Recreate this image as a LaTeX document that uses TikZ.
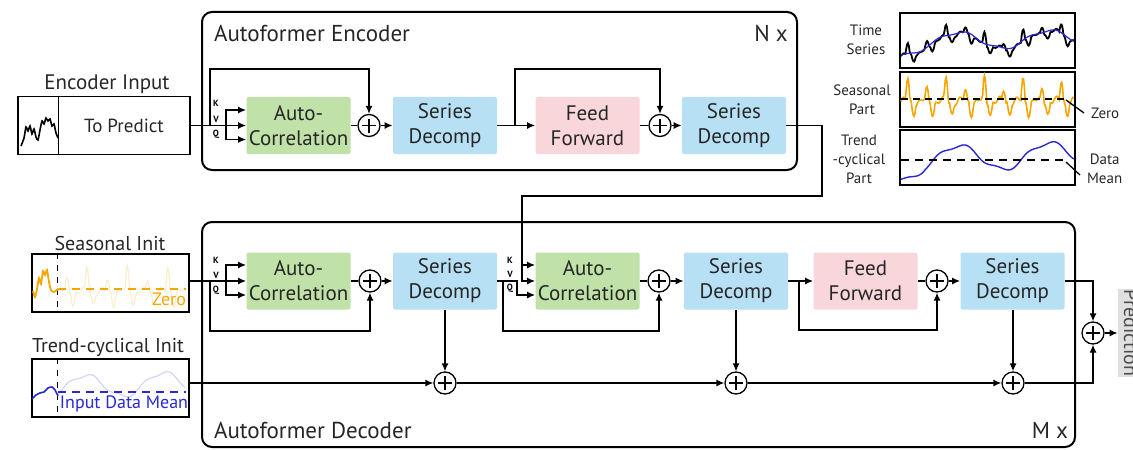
\documentclass[tikz,border=0pt]{standalone}
\usepackage{fontspec}
\setmainfont{PT Sans}
\usetikzlibrary{arrows.meta, positioning, calc}

\definecolor{acgreen}{RGB}{192,226,168}
\definecolor{sdblue}{RGB}{184,224,244}
\definecolor{ffpink}{RGB}{248,214,218}
\definecolor{seasorange}{RGB}{246,166,0}
\definecolor{trendblue}{RGB}{40,40,215}

\begin{document}
\begin{tikzpicture}[x=0.5pt, y=-0.5pt,
    declare function={
      trendf(\x)=0.7*sin(690*\x-138)+0.3*\x+0.12*sin(2100*\x)-0.6*max(0,1-7*\x);
      seasf(\x)=1.3*(0.8+0.3*sin(1700*\x))*max(0,1-(mod(9*\x,1)-0.35)*(mod(9*\x,1)-0.35)/0.012)
        -0.7*max(0,1-(mod(9*\x,1)-0.65)*(mod(9*\x,1)-0.65)/0.015)
        -0.15+0.2*sin(3300*\x)+0.12*sin(7700*\x);
    },
    conn/.style={line width=0.65pt},
    arr/.style={conn, -{Latex[length=4pt,width=3.5pt]}},
    blk/.style={minimum width=52pt, minimum height=28.5pt, inner sep=0pt,
      align=center, rounded corners=1pt, text=black!85,
      font=\fontsize{10.5}{12.5}\selectfont},
    sumop/.style={circle, draw, line width=0.65pt, minimum size=11pt, inner sep=0pt,
      path picture={\draw[line width=0.6pt]
        ([xshift=-3.5pt]path picture bounding box.center) -- ([xshift=3.5pt]path picture bounding box.center)
        ([yshift=-3.5pt]path picture bounding box.center) -- ([yshift=3.5pt]path picture bounding box.center);}},
    stackbox/.style={line width=1pt, rounded corners=5pt},
    inbox/.style={draw, line width=0.7pt, inner sep=0pt},
    lbl/.style={text=black!85, font=\fontsize{10}{12}\selectfont},
    tslbl/.style={text=black!85, align=center, font=\fontsize{7.5}{9.5}\selectfont},
    kvq/.style={inner sep=0pt, font=\fontsize{4.5}{5}\bfseries\selectfont}
  ]
  \useasboundingbox (0,0) rectangle (1133,449);

  % Encoder and decoder stacks
  \draw[stackbox] (202,12) rectangle (797,170);
  \draw[stackbox] (202,222) rectangle (1075,447);
  \node[anchor=west, lbl, font=\fontsize{11.5}{13}\selectfont] (enc_title) at (207,33) {Autoformer Encoder};
  \node[lbl, font=\fontsize{11.5}{13}\selectfont] (enc_n) at (771,33) {N x};
  \node[anchor=west, lbl, font=\fontsize{11.5}{13}\selectfont] (dec_title) at (207,430) {Autoformer Decoder};
  \node[lbl, font=\fontsize{11.5}{13}\selectfont] (dec_m) at (1050,430) {M x};

  % Encoder input
  \node[lbl, font=\fontsize{10.5}{12}\selectfont] (enc_lbl) at (107,84) {Encoder Input};
  \node[inbox, minimum width=86pt, minimum height=29pt] (enc_in) at (104,125.5) {};
  \draw[line width=0.7pt] ([xshift=20.5pt]enc_in.north west) -- ([xshift=20.5pt]enc_in.south west);
  \node[lbl, font=\fontsize{9.5}{11}\selectfont] (enc_tp) at (124,125.5) {To Predict};
  \draw[line width=0.8pt] plot[smooth, tension=0.4] coordinates {(21,146) (24,138) (26,127) (28,131) (30,126) (32,134) (34,129) (36,137) (38,140) (40,130) (42,121) (44,124) (46,118) (48,121) (50,119) (52,126) (54,124) (56,133) (58,138)};

  % Encoder layer
  \node[blk, fill=acgreen] (enc_ac) at (298.5,125.5) {Auto-\\Correlation};
  \node[sumop] (enc_p1) at (369,125.5) {};
  \node[blk, fill=sdblue] (enc_sd1) at (445,125.5) {Series\\Decomp};
  \node[blk, fill=ffpink] (enc_ff) at (587.5,125.5) {Feed\\Forward};
  \node[sumop] (enc_p2) at (660,125.5) {};
  \node[blk, fill=sdblue] (enc_sd2) at (734,125.5) {Series\\Decomp};
  \foreach \lt/\yy in {K/103,V/119,Q/134}
    \node[kvq] at (216,\yy) {\lt};

  \coordinate (enc_br) at (226,125.5);
  \coordinate (enc_fb) at (210,125.5);
  \coordinate (enc_fb2) at (515,125.5);
  \draw[conn] (enc_in.east) -- (enc_br);
  \draw[arr] (enc_br) |- ([yshift=7.75pt]enc_ac.west);
  \draw[arr] (enc_br) -- (enc_ac.west);
  \draw[arr] (enc_br) |- ([yshift=-7pt]enc_ac.west);
  \draw[arr] (enc_fb) -- ++(0,-56.5) -| (enc_p1.north);
  \draw[conn] (enc_ac) -- (enc_p1);
  \draw[arr] (enc_p1) -- (enc_sd1);
  \draw[arr] (enc_sd1) -- (enc_ff);
  \draw[arr] (enc_fb2) -- ++(0,-56.5) -| (enc_p2.north);
  \draw[conn] (enc_ff) -- (enc_p2);
  \draw[arr] (enc_p2) -- (enc_sd2);

  % Decoder inputs
  \node[lbl] (seas_lbl) at (110,243) {Seasonal Init};
  \node[inbox, minimum width=78.5pt, minimum height=29pt] (seas_in) at (110.5,283) {};
  \draw[line width=0.6pt, dashed] ([xshift=13pt]seas_in.north west) -- ([xshift=13pt]seas_in.south west);
  \draw[seasorange, line width=0.7pt, dash pattern=on 4pt off 3pt] (58,289) -- (186,289);
  \draw[seasorange, opacity=0.2, line width=0.6pt] plot[domain=0:1, samples=120] ({58+127*\x},{289-16*seasf(0.1+0.7*\x)});
  \draw[seasorange, line width=0.9pt] plot[smooth, tension=0.4] coordinates {(33,291) (35,297) (37,289) (39,278) (41,284) (43,271) (45,275) (47,270) (49,282) (51,290) (54,292) (58,289)};
  \node[text=seasorange, font=\fontsize{9}{10}\selectfont] (seas_zero) at (169,299) {Zero};

  \node[lbl] (trend_lbl) at (108,347) {Trend-cyclical Init};
  \node[inbox, minimum width=78.5pt, minimum height=29pt] (trend_in) at (110.5,388) {};
  \draw[line width=0.6pt, dashed] ([xshift=13pt]trend_in.north west) -- ([xshift=13pt]trend_in.south west);
  \draw[trendblue, line width=0.7pt, dash pattern=on 4pt off 3pt] (58,392) -- (186,392);
  \draw[trendblue, opacity=0.2, line width=0.6pt] plot[domain=0:1, samples=80] ({58+127*\x},{388-16*trendf(0.15+0.85*\x)});
  \draw[trendblue, line width=0.8pt] plot[smooth] coordinates {(32,399) (36,395) (40,393) (44,392) (48,388) (52,387) (55,390) (58,396)};
  \node[text=trendblue, font=\fontsize{9}{10}\selectfont] (trend_mean) at (124,404) {Input Data Mean};

  % Decoder layer
  \node[blk, fill=acgreen] (dec_ac1) at (298.5,281) {Auto-\\Correlation};
  \node[sumop] (dec_p1) at (370,281) {};
  \node[blk, fill=sdblue] (dec_sd1) at (445,281) {Series\\Decomp};
  \node[blk, fill=acgreen] (dec_ac2) at (587.5,281) {Auto-\\Correlation};
  \node[sumop] (dec_p2) at (659,281) {};
  \node[blk, fill=sdblue] (dec_sd2) at (736,281) {Series\\Decomp};
  \node[blk, fill=ffpink] (dec_ff) at (865.5,281) {Feed\\Forward};
  \node[sumop] (dec_p3) at (937,281) {};
  \node[blk, fill=sdblue] (dec_sd3) at (1012.5,281) {Series\\Decomp};
  \node[sumop] (tr_p1) at (445,383) {};
  \node[sumop] (tr_p2) at (736,383) {};
  \node[sumop] (tr_p3) at (1013,383) {};
  \node[sumop] (out_p) at (1093,333) {};
  \node[fill=black!12, text=black!70, rotate=-90, minimum width=44pt, minimum height=13pt,
    inner sep=0pt, font=\fontsize{10}{11}\selectfont] (pred) at (1131,333) {Prediction};
  \foreach \lt/\yy in {K/260,V/275,Q/290}
    \node[kvq] at (216,\yy) {\lt};
  \foreach \lt/\yy in {K/260,V/274,Q/288}
    \node[kvq] at (510,\yy) {\lt};

  \coordinate (dec_br) at (226,281);
  \coordinate (dec_fb) at (210,281);
  \coordinate (dec_q2) at (517,281);
  \coordinate (dec_fb2) at (503,281);
  \coordinate (dec_fb3) at (799,281);
  \coordinate (enc_out) at (822,196);
  \coordinate (kv_in) at (522,196);
  \draw[conn] (seas_in.east |- dec_br) -- (dec_br);
  \draw[arr] (dec_br) |- ([yshift=8pt]dec_ac1.west);
  \draw[arr] (dec_br) -- (dec_ac1.west);
  \draw[arr] (dec_br) |- ([yshift=-7pt]dec_ac1.west);
  \draw[arr] (dec_fb) -- ++(0,50) -| (dec_p1.south);
  \draw[conn] (dec_ac1) -- (dec_p1);
  \draw[arr] (dec_p1) -- (dec_sd1);
  \draw[arr] (dec_sd1.east) -- (dec_q2) |- ([yshift=-7pt]dec_ac2.west);
  \draw[arr] (dec_fb2) -- ++(0,50) -| (dec_p2.south);
  \draw[arr] (enc_sd2.east) -| (enc_out) -- (kv_in) |- ([yshift=8pt]dec_ac2.west);
  \draw[arr] (kv_in) |- (dec_ac2.west);
  \draw[conn] (dec_ac2) -- (dec_p2);
  \draw[arr] (dec_p2) -- (dec_sd2);
  \draw[arr] (dec_sd2) -- (dec_ff);
  \draw[arr] (dec_fb3) -- ++(0,49) -| (dec_p3.south);
  \draw[conn] (dec_ff) -- (dec_p3);
  \draw[arr] (dec_p3) -- (dec_sd3);
  \draw[arr] (dec_sd3.east) -| (out_p.north);
  \draw[arr] (dec_sd1) -- (tr_p1);
  \draw[arr] (dec_sd2) -- (tr_p2);
  \draw[arr] (dec_sd3.south -| tr_p3) -- (tr_p3);
  \draw[arr] (trend_in.east |- tr_p1) -- (tr_p1);
  \draw[arr] (tr_p1) -- (tr_p2);
  \draw[arr] (tr_p2) -- (tr_p3);
  \draw[arr] (tr_p3.east) -| (out_p.south);
  \draw[arr] (out_p) -- (pred);

  % Decomposition panel
  \node[inbox, minimum width=87.5pt, minimum height=27.5pt] (ts_box) at (987.5,40.5) {};
  \node[inbox, minimum width=87.5pt, minimum height=27.5pt] (sp_box) at (987.5,99.5) {};
  \node[inbox, minimum width=87.5pt, minimum height=27.5pt] (tc_box) at (987.5,157.5) {};
  \node[tslbl] (ts_lbl) at (866,40) {Time\\Series};
  \node[tslbl] (sp_lbl) at (862,100) {Seasonal\\Part};
  \node[tslbl] (tc_lbl) at (859,159) {Trend\\-cyclical\\Part};
  \node[tslbl, anchor=west] (zero_lbl) at (1084,113) {Zero};
  \node[tslbl, anchor=west] (mean_lbl) at (1080,169) {Data\\Mean};

  \draw[line width=0.9pt] plot[domain=0:1, samples=200] ({901+173*\x},{42-12*trendf(\x)-8*seasf(\x)});
  \draw[trendblue, line width=0.6pt] plot[domain=0:1, samples=80] ({901+173*\x},{42-12*trendf(\x)});
  \draw[seasorange, line width=0.8pt] plot[domain=0:1, samples=200] ({901+173*\x},{99-16*seasf(\x)});
  \draw[line width=0.6pt, dash pattern=on 3.5pt off 2.5pt] (901,99) -- (1068,99);
  \draw[trendblue, line width=0.7pt] plot[domain=0:1, samples=100] ({901+173*\x},{160-18*trendf(\x)});
  \draw[line width=0.6pt, dash pattern=on 4pt off 3pt] (901,160) -- (1068,160);
  \coordinate (zero_pt) at (1066,100);
  \coordinate (mean_pt) at (1066,162);
  \draw[conn] (zero_pt) -- (zero_lbl.west);
  \draw[conn] (mean_pt) -- ([yshift=-3pt]mean_lbl.west);
\end{tikzpicture}
\end{document}
